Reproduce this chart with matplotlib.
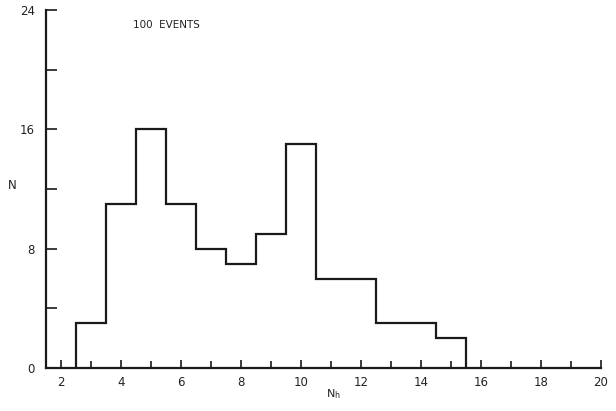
import numpy as np
import matplotlib
matplotlib.use('Agg')
import matplotlib.pyplot as plt

# nombre d'événements par bin de N_h
bin_edges = [2.5, 3.5, 4.5, 5.5, 6.5, 7.5, 8.5, 9.5, 10.5, 11.5, 12.5, 13.5, 14.5, 15.5]
counts = [3, 11, 16, 11, 8, 7, 9, 15, 6, 6, 3, 3, 2]
x_ticks = [2, 4, 6, 8, 10, 12, 14, 16, 18, 20]
y_ticks = [0, 8, 16, 24]

plt.rcParams['font.family'] = 'DejaVu Sans'

fig = plt.figure(figsize=(6.16, 4.11), dpi=100)
ax = fig.add_axes([0.0747, 0.1046, 0.901, 0.871])

ax.stairs(counts, bin_edges, color="#1a1a1a", linewidth=1.6, baseline=0)

ax.set_xlim(1.5, 20)
ax.set_ylim(0, 24)

for side in ["top", "right"]:
    ax.spines[side].set_visible(False)
for side in ["left", "bottom"]:
    ax.spines[side].set_linewidth(1.6)
    ax.spines[side].set_color("#1a1a1a")

ax.set_xticks(x_ticks)
ax.set_xticklabels([str(v) for v in x_ticks])
ax.set_xticks(np.arange(2, 21, 1), minor=True)
ax.set_yticks(y_ticks)
ax.set_yticklabels([str(v) for v in y_ticks])
ax.set_yticks([4, 12, 20], minor=True)

ax.tick_params(axis="both", which="both", direction="in", color="#1a1a1a",
               width=1.2, labelsize=8.5, labelcolor="#222222")
ax.tick_params(axis="x", which="major", length=6, pad=6)
ax.tick_params(axis="x", which="minor", length=5)
ax.tick_params(axis="y", which="both", length=8, pad=8)

# étiquettes des axes
ax.text(-0.061, 0.51, "N", transform=ax.transAxes, fontsize=8.5,
        ha="center", va="center", color="#222222")
ax.text(0.517, -0.072, r"N$_{\rm h}$", transform=ax.transAxes, fontsize=8,
        ha="center", va="center", color="#222222")
ax.text(4.4, 23, "100  EVENTS", fontsize=7.5, ha="left", va="center",
        color="#222222")

fig.savefig("out.png", dpi=100)
plt.close(fig)
